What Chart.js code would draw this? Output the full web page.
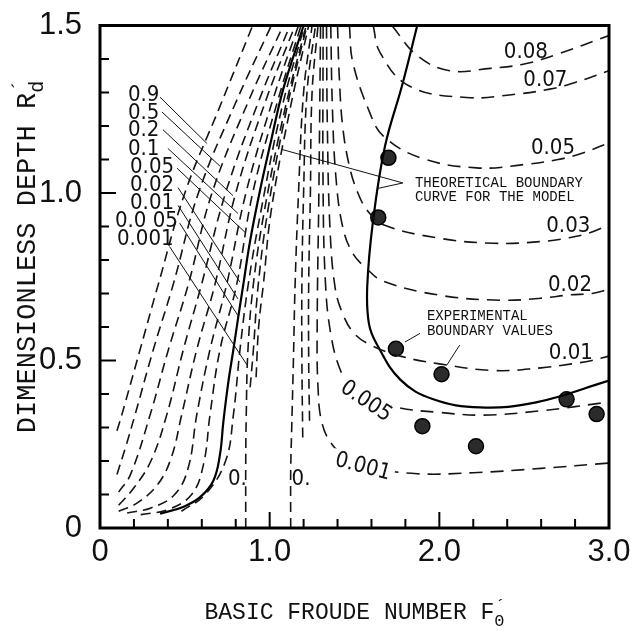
<!DOCTYPE html>
<html>
<head>
<meta charset="utf-8">
<script src="https://cdn.jsdelivr.net/npm/chart.js@4.4.1/dist/chart.umd.min.js"></script>
<style>
html, body { margin: 0; padding: 0; background: #fff; }
#wrap { width: 640px; height: 634px; }
</style>
</head>
<body>
<div id="wrap"><canvas id="chart"></canvas></div>
<script>
// tick labels
var xTickLabels = ['0', '1.0', '2.0', '3.0']
var yTickLabels = ['0', '0.5', '1.0', '1.5']

// supercritical family (left of F = 1), [F, Rd]
var fanL1 = [[0.10,0.29],[0.128,0.337],[0.236,0.532],[0.344,0.728],[0.50,1.0],[0.70,1.25],[0.90,1.5]]
var fanL2 = [[0.10,0.16],[0.15,0.24],[0.206,0.337],[0.314,0.532],[0.432,0.728],[0.58,1.0],[0.80,1.27],[1.01,1.5]]
var fanL3 = [[0.11,0.107],[0.18,0.16],[0.295,0.337],[0.403,0.532],[0.521,0.728],[0.66,1.0],[0.88,1.28],[1.08,1.5]]
var fanL4 = [[0.11,0.068],[0.20,0.12],[0.30,0.20],[0.393,0.337],[0.491,0.532],[0.599,0.728],[0.74,1.0],[0.94,1.28],[1.12,1.5]]
var fanL5 = [[0.11,0.05],[0.22,0.075],[0.34,0.13],[0.42,0.21],[0.481,0.337],[0.570,0.532],[0.678,0.728],[0.80,1.0],[0.98,1.28],[1.15,1.5]]
var fanL6 = [[0.16,0.045],[0.30,0.06],[0.44,0.10],[0.52,0.18],[0.570,0.337],[0.648,0.532],[0.747,0.728],[0.86,1.0],[1.02,1.28],[1.17,1.5]]
var fanL7 = [[0.24,0.04],[0.40,0.055],[0.54,0.10],[0.61,0.19],[0.648,0.337],[0.707,0.532],[0.806,0.728],[0.90,1.0],[1.05,1.28],[1.185,1.5]]
var fanM1 = [[0.48,0.05],[0.62,0.10],[0.74,0.20],[0.786,0.337],[0.825,0.532],[0.874,0.728],[0.95,0.95],[1.07,1.25],[1.205,1.5]]
var zeroLeft = [[0.859,0.0],[0.859,0.2],[0.862,0.337],[0.872,0.532],[0.904,0.728],[0.97,0.95],[1.09,1.25],[1.215,1.5]]
var fanM3 = [[0.885,0.42],[0.904,0.532],[0.933,0.728],[0.99,0.95],[1.10,1.25],[1.22,1.5]]
var fanM4 = [[0.92,0.45],[0.935,0.6],[0.963,0.728],[1.01,0.95],[1.12,1.25],[1.23,1.5]]

// subcritical family (right of F = 1)
var zeroRight = [[1.124,0.0],[1.124,0.17],[1.13,0.3],[1.14,0.5],[1.15,0.728],[1.17,1.0],[1.20,1.3],[1.25,1.5]]
var nearR1 = [[1.195,0.27],[1.19,0.5],[1.19,0.728],[1.20,1.0],[1.22,1.3],[1.27,1.5]]
var nearR2 = [[1.235,0.32],[1.23,0.5],[1.23,0.728],[1.24,1.0],[1.25,1.3],[1.285,1.5]]
var sub001 = [[1.30,1.5],[1.29,1.0],[1.28,0.6],[1.285,0.42],[1.31,0.31],[1.375,0.245],[1.47,0.205],[1.6,0.18],[1.87,0.162],[2.2,0.165],[2.6,0.178],[3.0,0.194]]
var sub005 = [[1.315,1.5],[1.315,1.0],[1.33,0.72],[1.36,0.58],[1.41,0.48],[1.47,0.43],[1.57,0.39],[1.75,0.36],[2.0,0.345],[2.26,0.337],[2.6,0.35],[3.0,0.376]]
var sub01 = [[1.335,1.5],[1.34,1.2],[1.355,0.9],[1.385,0.72],[1.43,0.64],[1.50,0.58],[1.6,0.545],[1.77,0.513],[2.0,0.49],[2.32,0.47],[2.6,0.478],[2.78,0.49],[2.9,0.50],[3.0,0.513]]
var sub02 = [[1.36,1.5],[1.37,1.25],[1.39,1.05],[1.43,0.9],[1.49,0.82],[1.57,0.775],[1.67,0.737],[2.0,0.695],[2.36,0.68],[2.6,0.686],[2.77,0.696],[2.9,0.70],[3.0,0.713]]
var sub03 = [[1.40,1.5],[1.41,1.35],[1.43,1.2],[1.47,1.08],[1.52,1.0],[1.58,0.945],[1.67,0.905],[2.0,0.865],[2.32,0.85],[2.6,0.855],[2.76,0.866],[2.88,0.88],[3.0,0.905]]
var sub05 = [[1.47,1.5],[1.49,1.39],[1.59,1.24],[1.67,1.17],[1.89,1.105],[2.22,1.075],[2.5,1.085],[2.7,1.10],[2.85,1.12],[3.0,1.15]]
var sub07 = [[1.61,1.5],[1.65,1.42],[1.82,1.32],[2.16,1.285],[2.45,1.295],[2.65,1.31],[2.8,1.33],[3.0,1.365]]
var sub08 = [[1.72,1.5],[1.87,1.41],[2.06,1.365],[2.30,1.372],[2.50,1.385],[2.70,1.415],[3.0,1.47]]

// theoretical boundary curves (solid)
var boundaryLeft = [[0.354,0.043],[0.49,0.063],[0.59,0.092],[0.668,0.141],[0.707,0.219],[0.727,0.317],[0.756,0.434],[0.786,0.532],[0.815,0.63],[0.845,0.728],[0.884,0.855],[0.94,1.0],[1.01,1.16],[1.08,1.31],[1.20,1.5]]
var boundaryRight = [[1.87,1.5],[1.78,1.32],[1.68,1.14],[1.61,0.92],[1.575,0.72],[1.585,0.61],[1.63,0.55],[1.77,0.443],[1.96,0.385],[2.24,0.36],[2.57,0.375],[3.0,0.44]]

// experimental boundary values
var expF = [1.70, 1.64, 1.744, 2.013, 1.90, 2.216, 2.75, 2.927]
var expRd = [1.105, 0.927, 0.535, 0.459, 0.304, 0.244, 0.384, 0.34]

var narrow = '"Liberation Sans Narrow", "DejaVu Sans Condensed", sans-serif'
var mono = '"Liberation Mono", "DejaVu Sans Mono", monospace'

var labels = [
    {t: '0.9', x: 0.165, y: 1.295, a: 'left'},
    {t: '0.5', x: 0.165, y: 1.242, a: 'left'},
    {t: '0.2', x: 0.165, y: 1.189, a: 'left'},
    {t: '0.1', x: 0.165, y: 1.133, a: 'left'},
    {t: '0.05', x: 0.177, y: 1.08, a: 'left'},
    {t: '0.02', x: 0.177, y: 1.027, a: 'left'},
    {t: '0.01', x: 0.177, y: 0.972, a: 'left'},
    {t: '0.0 05', x: 0.088, y: 0.919, a: 'left'},
    {t: '0.001', x: 0.10, y: 0.866, a: 'left'},
    {t: '0.', x: 0.81, y: 0.147},
    {t: '0.', x: 1.185, y: 0.147},
    {t: '0.08', x: 2.51, y: 1.424},
    {t: '0.07', x: 2.625, y: 1.34},
    {t: '0.05', x: 2.67, y: 1.136},
    {t: '0.03', x: 2.76, y: 0.904},
    {t: '0.02', x: 2.77, y: 0.728},
    {t: '0.01', x: 2.775, y: 0.525},
    {t: '0.005', x: 1.57, y: 0.38, r: 34, bg: true},
    {t: '0.001', x: 1.55, y: 0.185, r: 15, bg: true}
]

var notes = [
    {t: 'THEORETICAL BOUNDARY', x: 1.856, y: 1.03},
    {t: 'CURVE FOR THE MODEL', x: 1.856, y: 0.986},
    {t: 'EXPERIMENTAL', x: 1.927, y: 0.631},
    {t: 'BOUNDARY VALUES', x: 1.927, y: 0.587}
]

var leaders = [
    [0.354,1.286,0.63,1.148],
    [0.365,1.242,0.707,1.08],
    [0.371,1.189,0.784,0.992],
    [0.40,1.133,0.813,0.939],
    [0.454,1.074,0.854,0.883],
    [0.46,1.016,0.825,0.734],
    [0.46,0.963,0.813,0.684],
    [0.47,0.91,0.813,0.634],
    [0.41,0.84,0.866,0.487],
    [1.785,1.03,1.072,1.13],
    [1.785,1.03,1.632,1.013],
    [1.886,0.581,1.797,0.555],
    [2.12,0.546,2.045,0.487]
]

function pts(arr) {
    return arr.map(function (p) { return {x: p[0], y: p[1]} })
}

function dashed(arr, dash) {
    return {
        data: pts(arr),
        showLine: true,
        borderColor: '#151515',
        borderWidth: 1.6,
        borderDash: dash || [10, 6],
        pointRadius: 0,
        tension: 0.4
    }
}

function solid(arr) {
    return {
        data: pts(arr),
        showLine: true,
        borderColor: '#000',
        borderWidth: 2.2,
        pointRadius: 0,
        tension: 0.4
    }
}

var datasets = []
;[fanL1, fanL2, fanL3, fanL4, fanL5, fanL6, fanL7, fanM1, zeroLeft, fanM3, fanM4, zeroRight, nearR1, nearR2].forEach(function (c) {
    datasets.push(dashed(c))
})
;[sub001, sub005, sub01, sub02, sub03, sub05, sub07, sub08].forEach(function (c) {
    datasets.push(dashed(c, [13, 8]))
})
datasets.push(solid(boundaryLeft))
datasets.push(solid(boundaryRight))
datasets.push({
    data: expF.map(function (f, i) { return {x: f, y: expRd[i]} }),
    showLine: false,
    pointRadius: 7.5,
    pointBackgroundColor: '#2b2b2b',
    pointBorderColor: '#000',
    pointBorderWidth: 1.5
})

function near(v, step) {
    return Math.abs(v / step - Math.round(v / step)) < 1e-6
}

var paper = {
    id: 'paper',
    afterDatasetsDraw: function (chart) {
        var ctx = chart.ctx, xs = chart.scales.x, ys = chart.scales.y
        ctx.save()
        ctx.strokeStyle = '#111'
        ctx.lineWidth = 1
        leaders.forEach(function (l) {
            ctx.beginPath()
            ctx.moveTo(xs.getPixelForValue(l[0]), ys.getPixelForValue(l[1]))
            ctx.lineTo(xs.getPixelForValue(l[2]), ys.getPixelForValue(l[3]))
            ctx.stroke()
        })
        labels.forEach(function (l) {
            ctx.save()
            ctx.translate(xs.getPixelForValue(l.x), ys.getPixelForValue(l.y))
            ctx.rotate((l.r || 0) * Math.PI / 180)
            ctx.font = '22px ' + narrow
            ctx.textAlign = l.a || 'center'
            ctx.textBaseline = 'middle'
            if (l.bg) {
                var w = ctx.measureText(l.t).width
                ctx.fillStyle = '#fff'
                ctx.fillRect(-w / 2 - 4, -10, w + 8, 20)
            }
            ctx.fillStyle = '#111'
            ctx.fillText(l.t, 0, 1)
            ctx.restore()
        })
        ctx.font = '14px ' + mono
        ctx.fillStyle = '#111'
        ctx.textAlign = 'left'
        ctx.textBaseline = 'middle'
        notes.forEach(function (n) {
            ctx.fillText(n.t, xs.getPixelForValue(n.x), ys.getPixelForValue(n.y))
        })
        ctx.restore()
    },
    afterDraw: function (chart) {
        var ctx = chart.ctx, a = chart.chartArea, xs = chart.scales.x, ys = chart.scales.y
        ctx.save()
        ctx.strokeStyle = '#000'
        ctx.lineWidth = 2
        xs.ticks.forEach(function (t) {
            var px = xs.getPixelForValue(t.value)
            var len = near(t.value, 1) ? 16 : 9
            ctx.beginPath()
            ctx.moveTo(px, a.bottom)
            ctx.lineTo(px, a.bottom - len)
            ctx.stroke()
        })
        ys.ticks.forEach(function (t) {
            var py = ys.getPixelForValue(t.value)
            var len = near(t.value, 0.5) ? 16 : 9
            ctx.beginPath()
            ctx.moveTo(a.left, py)
            ctx.lineTo(a.left + len, py)
            ctx.stroke()
        })
        ctx.lineWidth = 3
        ctx.strokeRect(a.left, a.top, a.right - a.left, a.bottom - a.top)

        // axis titles with primed subscripts
        ctx.fillStyle = '#111'
        ctx.textBaseline = 'alphabetic'
        ctx.textAlign = 'left'
        function title(main, sub, size, cx, cy, rot) {
            ctx.save()
            ctx.translate(cx, cy)
            ctx.rotate(rot)
            var small = Math.round(size * 0.75)
            ctx.font = size + 'px ' + mono
            var w1 = ctx.measureText(main).width
            ctx.font = small + 'px ' + mono
            var w2 = ctx.measureText(sub).width
            var x0 = -(w1 + w2) / 2
            ctx.font = size + 'px ' + mono
            ctx.fillText(main, x0, size * 0.3)
            ctx.font = small + 'px ' + mono
            ctx.fillText(sub, x0 + w1, size * 0.6)
            ctx.fillText('\u00b4', x0 + w1 + 1, -size * 0.05)
            ctx.restore()
        }
        title('DIMENSIONLESS DEPTH R', 'd', 27, 27, 257, -Math.PI / 2)
        title('BASIC FROUDE NUMBER F', '0', 23, (a.left + a.right) / 2, 612, 0)
        ctx.restore()
    }
}

new Chart(document.getElementById('chart'), {
    type: 'scatter',
    data: {datasets: datasets},
    options: {
        responsive: true,
        maintainAspectRatio: false,
        animation: false,
        devicePixelRatio: 1,
        layout: {padding: {left: 0, right: 31, top: 17, bottom: 0}},
        plugins: {legend: {display: false}, tooltip: {enabled: false}},
        scales: {
            x: {
                min: 0, max: 3,
                grid: {display: false},
                border: {display: false},
                afterFit: function (s) { s.height = 106 },
                ticks: {
                    stepSize: 0.2, autoSkip: false, maxRotation: 0, padding: 1,
                    color: '#111',
                    font: {family: '"Liberation Sans", Arial, sans-serif', size: 31, lineHeight: 1},
                    callback: function (v) { return near(v, 1) ? xTickLabels[Math.round(v)] : '' }
                }
            },
            y: {
                min: 0, max: 1.5,
                grid: {display: false},
                border: {display: false},
                afterFit: function (s) { s.width = 100 },
                ticks: {
                    stepSize: 0.1, autoSkip: false, padding: 10,
                    color: '#111',
                    font: {family: '"Liberation Sans", Arial, sans-serif', size: 31, lineHeight: 1},
                    callback: function (v) { return near(v, 0.5) ? yTickLabels[Math.round(v * 2)] : '' }
                }
            }
        }
    },
    plugins: [paper]
})
</script>
</body>
</html>
